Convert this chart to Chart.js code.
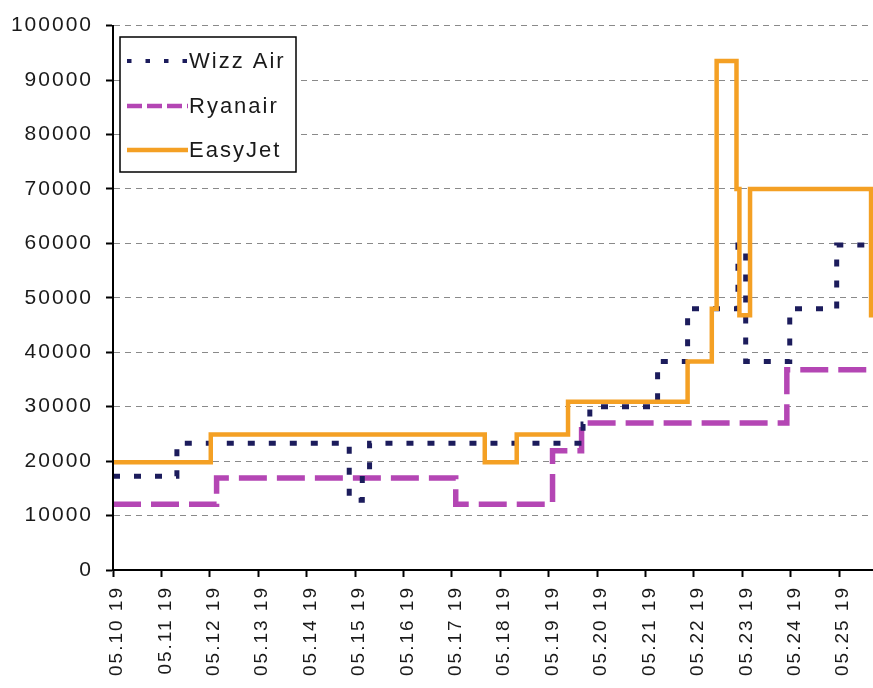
<!DOCTYPE html>
<html>
<head>
<meta charset="utf-8">
<script src="https://cdn.jsdelivr.net/npm/chart.js@4.4.1/dist/chart.umd.min.js"></script>
<style>
  html, body { margin: 0; padding: 0; background: #fff; }
  #wrap { width: 873px; height: 688px; }
</style>
</head>
<body>
<div id="wrap"><canvas id="fareChart"></canvas></div>
<script>
// tick labels on the date axis (one per day)
const dayLabels = [
  '05.10 19', '05.11 19', '05.12 19', '05.13 19', '05.14 19', '05.15 19',
  '05.16 19', '05.17 19', '05.18 19', '05.19 19', '05.20 19', '05.21 19',
  '05.22 19', '05.23 19', '05.24 19', '05.25 19',
];

// each series: day (from 05.10) when a price starts, and the price
const wizzDays = [0, 1.32, 4.88, 5.15, 5.30, 9.71, 9.85, 11.25, 11.87, 12.91, 13.07, 13.98, 14.95, 16];
const wizzValues = [17200, 23300, 12800, 18000, 23300, 26800, 30000, 38300, 48000, 59700, 38300, 48000, 59700, 59700];

const ryanairDays = [0, 2.14, 7.08, 9.08, 9.68, 13.92, 16];
const ryanairValues = [12100, 16900, 12100, 21900, 27000, 36800, 36800];

const easyjetDays = [0, 2.02, 7.68, 8.34, 9.40, 11.87, 12.37, 12.47, 12.88, 12.94, 13.16, 15.66, 16];
const easyjetValues = [19800, 24900, 19800, 24900, 30900, 38300, 48000, 93500, 70000, 46800, 70000, 46800, 46800];

const TEXT_COLOR = '#1a1a1a';
const FONT = 'Liberation Sans, Arial, sans-serif';

function toPoints(days, values) {
  return days.map((d, i) => ({ x: d, y: values[i] }));
}

const letterSpacing = {
  id: 'letterSpacing',
  beforeUpdate(chart) { chart.ctx.letterSpacing = '2px'; },
  beforeDraw(chart) { chart.ctx.letterSpacing = '2px'; },
};

const legendBox = {
  id: 'legendBox',
  afterDraw(chart) {
    const ctx = chart.ctx;
    const samples = [[4.5, 14], [15, 5], []];
    const rows = [61, 106, 150];
    ctx.save();
    ctx.fillStyle = '#fff';
    ctx.fillRect(120, 37, 176, 135);
    ctx.strokeStyle = '#000';
    ctx.lineWidth = 1.5;
    ctx.strokeRect(120, 37, 176, 135);
    chart.data.datasets.forEach((ds, row) => {
      ctx.beginPath();
      ctx.setLineDash(samples[row]);
      ctx.strokeStyle = ds.borderColor;
      ctx.lineWidth = row === 0 ? 4 : 4.5;
      ctx.moveTo(127, rows[row]);
      ctx.lineTo(188, rows[row]);
      ctx.stroke();
      ctx.setLineDash([]);
      ctx.fillStyle = TEXT_COLOR;
      ctx.font = '22px ' + FONT;
      ctx.textBaseline = 'middle';
      ctx.textAlign = 'left';
      ctx.fillText(ds.label, 189, rows[row] + 1);
    });
    ctx.restore();
  },
};

new Chart(document.getElementById('fareChart'), {
  type: 'line',
  data: {
    datasets: [
      {
        label: 'Wizz Air',
        data: toPoints(wizzDays, wizzValues),
        borderColor: '#1c1c5c',
        borderWidth: 5,
        borderDash: [7, 14],
        borderCapStyle: 'butt',
        stepped: true,
        pointRadius: 0,
        fill: false,
        order: 2,
      },
      {
        label: 'Ryanair',
        data: toPoints(ryanairDays, ryanairValues),
        borderColor: '#b446b4',
        borderWidth: 5.5,
        borderDash: [28, 10],
        stepped: true,
        pointRadius: 0,
        fill: false,
        order: 3,
      },
      {
        label: 'EasyJet',
        data: toPoints(easyjetDays, easyjetValues),
        borderColor: '#f4a024',
        borderWidth: 4.5,
        stepped: true,
        pointRadius: 0,
        fill: false,
        order: 1,
      },
    ],
  },
  options: {
    responsive: true,
    maintainAspectRatio: false,
    animation: false,
    layout: { padding: { top: 22, right: 0, bottom: 0, left: 0 } },
    plugins: {
      legend: { display: false },
      tooltip: { enabled: false },
    },
    scales: {
      x: {
        type: 'linear',
        min: 0,
        max: 15.7,
        afterFit(scale) { scale.height = 118; },
        afterBuildTicks(scale) { scale.ticks = dayLabels.map((_, i) => ({ value: i })); },
        ticks: {
          autoSkip: false,
          minRotation: 90,
          maxRotation: 90,
          padding: 9,
          labelOffset: 4,
          color: TEXT_COLOR,
          font: { family: FONT, size: 19 },
          callback: (value) => dayLabels[value],
        },
        grid: { drawOnChartArea: false, tickLength: 7, tickColor: '#000', tickWidth: 2 },
        border: { color: '#000', width: 2, z: 1 },
      },
      y: {
        min: 0,
        max: 100000,
        afterFit(scale) { scale.width = 113; },
        ticks: {
          stepSize: 10000,
          padding: 13,
          color: TEXT_COLOR,
          font: { family: FONT, size: 21 },
          callback: (value) => String(value),
        },
        grid: {
          color: '#8a8a8a',
          lineWidth: 1,
          tickLength: 7,
          tickColor: '#000',
          tickWidth: 2,
          tickBorderDash: [],
        },
        border: { color: '#000', width: 2, dash: [6, 5], z: 1 },
      },
    },
  },
  plugins: [letterSpacing, legendBox],
});
</script>
</body>
</html>
